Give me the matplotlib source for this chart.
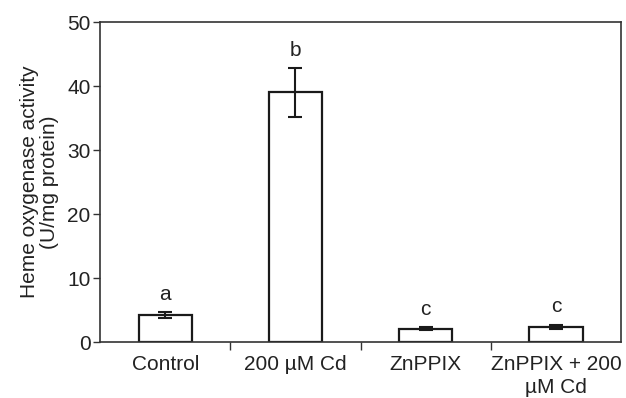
import matplotlib
matplotlib.use("Agg")
import matplotlib.pyplot as plt
import numpy as np

categories = ["Control", "200 \u00b5M Cd", "ZnPPIX", "ZnPPIX + 200\n\u00b5M Cd"]
values = [4.2, 39.0, 2.1, 2.4]
errors = [0.5, 3.8, 0.2, 0.3]
letters = ["a", "b", "c", "c"]
yticks = [0, 10, 20, 30, 40, 50]

plt.rcParams['font.family'] = ['Liberation Sans', 'DejaVu Sans']
TXT = "#222222"

fig = plt.figure(figsize=(6.26, 3.98), dpi=100)
ax = fig.add_axes([0.16, 0.1407, 0.832, 0.804])

x = np.arange(len(categories))
ax.bar(x, values, width=0.41, color="white", edgecolor="#1a1a1a", linewidth=1.6, zorder=2)
ax.errorbar(x, values, yerr=errors, fmt="none", ecolor="#1a1a1a", elinewidth=1.5,
            capsize=5, capthick=1.5, zorder=3)
for xi, v, e, l in zip(x, values, errors, letters):
    ax.text(xi, v + e + 1.3, l, ha="center", va="bottom", fontsize=15, color=TXT)

ax.set_xlim(-0.5, len(categories) - 0.5)
ax.set_ylim(0, 50)
ax.set_yticks(yticks)
ax.set_xticks(x)
ax.set_xticklabels(categories, fontsize=15, color=TXT, linespacing=1.3)
ax.set_xticks(np.arange(len(categories) - 1) + 0.5, minor=True)
ax.tick_params(axis="x", which="major", length=0, pad=9)
ax.tick_params(axis="x", which="minor", length=6, width=1, color="#333333", direction="out")
ax.tick_params(axis="y", length=5, width=1, color="#333333", labelsize=15, labelcolor=TXT, pad=2)
for s in ax.spines.values():
    s.set_color("#333333")
    s.set_linewidth(1.2)
ax.set_ylabel("Heme oxygenase activity\n(U/mg protein)", fontsize=15, color=TXT,
              labelpad=6, linespacing=1.05)

fig.savefig("out.png", dpi=100)
